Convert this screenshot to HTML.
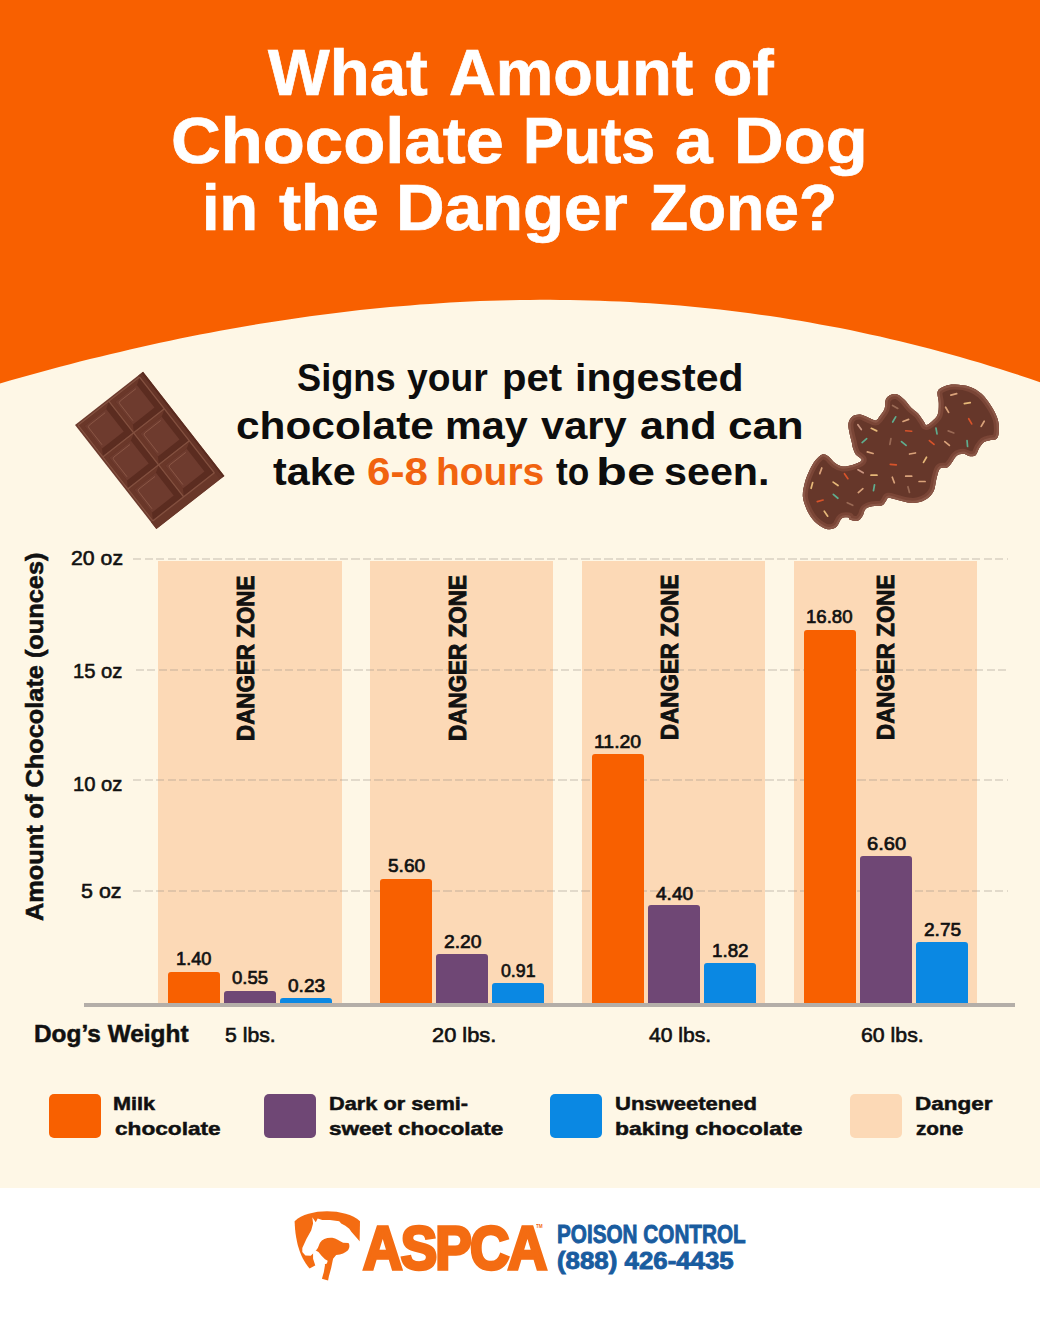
<!DOCTYPE html>
<html><head><meta charset="utf-8">
<style>
*{margin:0;padding:0;box-sizing:border-box}
html,body{width:1040px;height:1339px;overflow:hidden;background:#fef7e6;font-family:"Liberation Sans",sans-serif;color:#111}
.abs{position:absolute}
.t{position:absolute;white-space:nowrap;line-height:0;transform-origin:0 0}
.dz{position:absolute;top:561px;height:442px;background:#fcd9b6}
.grid{position:absolute;left:133.3px;width:875px;height:2px;background:repeating-linear-gradient(90deg,rgba(150,140,130,.27) 0 8px,transparent 8px 11.5px)}
.bar{position:absolute;width:52px;border-radius:3px 3px 0 0}
.b0{background:#f86000}.b1{background:#6f4775}.b2{background:#0a88e3}
.lg{position:absolute;top:1094px;width:52px;height:44px;border-radius:5px}
#foot{position:absolute;left:0;top:1188px;width:1040px;height:151px;background:#fff}
</style></head><body>
<svg class="abs" style="left:0;top:0" width="1040" height="400" viewBox="0 0 1040 400"><path fill="#f86000" d="M0,0 H1040 L1040,382.2 L1030,378.8 L1020,375.4 L1010,372.2 L1000,369.0 L990,365.9 L980,362.8 L970,359.9 L960,357.0 L950,354.2 L940,351.4 L930,348.8 L920,346.2 L910,343.7 L900,341.2 L890,338.9 L880,336.6 L870,334.4 L860,332.2 L850,330.1 L840,328.1 L830,326.2 L820,324.4 L810,322.6 L800,320.8 L790,319.2 L780,317.6 L770,316.1 L760,314.7 L750,313.3 L740,312.0 L730,310.8 L720,309.6 L710,308.5 L700,307.5 L690,306.5 L680,305.6 L670,304.8 L660,304.0 L650,303.3 L640,302.7 L630,302.1 L620,301.6 L610,301.2 L600,300.8 L590,300.5 L580,300.2 L570,300.0 L560,299.9 L550,299.8 L540,299.8 L530,299.9 L520,300.0 L510,300.2 L500,300.5 L490,300.8 L480,301.1 L470,301.6 L460,302.1 L450,302.6 L440,303.2 L430,303.9 L420,304.6 L410,305.4 L400,306.2 L390,307.1 L380,308.1 L370,309.1 L360,310.1 L350,311.3 L340,312.4 L330,313.7 L320,315.0 L310,316.3 L300,317.7 L290,319.2 L280,320.7 L270,322.2 L260,323.8 L250,325.5 L240,327.2 L230,329.0 L220,330.8 L210,332.7 L200,334.6 L190,336.6 L180,338.6 L170,340.7 L160,342.8 L150,345.0 L140,347.3 L130,349.5 L120,351.9 L110,354.2 L100,356.7 L90,359.1 L80,361.6 L70,364.2 L60,366.8 L50,369.5 L40,372.2 L30,374.9 L20,377.7 L10,380.6 L0,383.5 Z"/></svg>

<!-- chart -->
<div class="dz" style="left:158.3px;width:183.5px"></div>
<div class="dz" style="left:370.1px;width:182.5px"></div>
<div class="dz" style="left:581.5px;width:183px"></div>
<div class="dz" style="left:793.5px;width:183px"></div>

<div class="grid" style="top:558.3px"></div>
<div class="grid" style="top:669.3px;left:135.8px;width:872px"></div>
<div class="grid" style="top:779.4px"></div>
<div class="grid" style="top:890.2px"></div>

<div class="bar b0" style="left:168.3px;top:972.1px;height:31.9px"></div>
<div class="bar b1" style="left:224.3px;top:991.0px;height:13.0px"></div>
<div class="bar b2" style="left:280.3px;top:998.1px;height:5.9px"></div>
<div class="bar b0" style="left:380.1px;top:878.7px;height:125.3px"></div>
<div class="bar b1" style="left:436.1px;top:954.3px;height:49.7px"></div>
<div class="bar b2" style="left:492.1px;top:983.0px;height:21.0px"></div>
<div class="bar b0" style="left:591.5px;top:754.1px;height:249.9px"></div>
<div class="bar b1" style="left:647.5px;top:905.3px;height:98.7px"></div>
<div class="bar b2" style="left:703.5px;top:962.7px;height:41.3px"></div>
<div class="bar b0" style="left:803.5px;top:629.6px;height:374.4px"></div>
<div class="bar b1" style="left:859.5px;top:856.4px;height:147.6px"></div>
<div class="bar b2" style="left:915.5px;top:942.0px;height:62.0px"></div>

<div class="abs" style="left:84px;top:1003px;width:931px;height:4px;background:#b4aea8"></div>

<div class="lg b0" style="left:49px"></div>
<div class="lg b1" style="left:263.5px"></div>
<div class="lg b2" style="left:550px"></div>
<div class="lg" style="left:850px;background:#fcd9b6"></div>

<div id="foot"></div>
<svg class="abs" style="left:0;top:0;overflow:visible" width="1040" height="600"><g transform="translate(149.7,450.4) rotate(-38)"><rect x="-43.15" y="-66.05" width="86.3" height="132.1" fill="#6c3a2d"/><rect x="40.95" y="-66.05" width="2.2" height="132.1" fill="#5a2b1f"/><rect x="37.20" y="-66.05" width="3.75" height="132.1" fill="#653427"/><rect x="-43.15" y="57.50" width="80.35" height="8.55" fill="#693729"/><rect x="-40.40" y="-63.40" width="38.00" height="39.10" fill="#5b2c20"/><polygon points="-40.40,-63.40 -2.40,-63.40 -8.90,-59.40 -36.40,-59.40 -36.40,-30.80 -40.40,-24.30" fill="#6a3729"/><rect x="-36.40" y="-59.40" width="27.50" height="28.60" fill="#6e3b2e"/><path d="M-34.10,-33.80 V-55.10 Q-34.10,-57.10 -32.10,-57.10 H-11.90" fill="none" stroke="#8a5645" stroke-width="0.9"/><rect x="-1.20" y="-63.40" width="37.80" height="39.10" fill="#5b2c20"/><polygon points="-1.20,-63.40 36.60,-63.40 30.10,-59.40 2.80,-59.40 2.80,-30.80 -1.20,-24.30" fill="#6a3729"/><rect x="2.80" y="-59.40" width="27.30" height="28.60" fill="#6e3b2e"/><path d="M5.10,-33.80 V-55.10 Q5.10,-57.10 7.10,-57.10 H27.10" fill="none" stroke="#8a5645" stroke-width="0.9"/><rect x="-40.40" y="-23.10" width="38.00" height="39.40" fill="#5b2c20"/><polygon points="-40.40,-23.10 -2.40,-23.10 -8.90,-19.10 -36.40,-19.10 -36.40,9.80 -40.40,16.30" fill="#6a3729"/><rect x="-36.40" y="-19.10" width="27.50" height="28.90" fill="#6e3b2e"/><path d="M-34.10,6.80 V-14.80 Q-34.10,-16.80 -32.10,-16.80 H-11.90" fill="none" stroke="#8a5645" stroke-width="0.9"/><rect x="-1.20" y="-23.10" width="37.80" height="39.40" fill="#5b2c20"/><polygon points="-1.20,-23.10 36.60,-23.10 30.10,-19.10 2.80,-19.10 2.80,9.80 -1.20,16.30" fill="#6a3729"/><rect x="2.80" y="-19.10" width="27.30" height="28.90" fill="#6e3b2e"/><path d="M5.10,6.80 V-14.80 Q5.10,-16.80 7.10,-16.80 H27.10" fill="none" stroke="#8a5645" stroke-width="0.9"/><rect x="-40.40" y="17.50" width="38.00" height="39.40" fill="#5b2c20"/><polygon points="-40.40,17.50 -2.40,17.50 -8.90,21.50 -36.40,21.50 -36.40,50.40 -40.40,56.90" fill="#6a3729"/><rect x="-36.40" y="21.50" width="27.50" height="28.90" fill="#6e3b2e"/><path d="M-34.10,47.40 V25.80 Q-34.10,23.80 -32.10,23.80 H-11.90" fill="none" stroke="#8a5645" stroke-width="0.9"/><rect x="-1.20" y="17.50" width="37.80" height="39.40" fill="#5b2c20"/><polygon points="-1.20,17.50 36.60,17.50 30.10,21.50 2.80,21.50 2.80,50.40 -1.20,56.90" fill="#6a3729"/><rect x="2.80" y="21.50" width="27.30" height="28.90" fill="#6e3b2e"/><path d="M5.10,47.40 V25.80 Q5.10,23.80 7.10,23.80 H27.10" fill="none" stroke="#8a5645" stroke-width="0.9"/><line x1="-41.00" y1="-64.00" x2="-41.00" y2="57.50" stroke="#83503f" stroke-width="1.3"/><line x1="-1.80" y1="-64.00" x2="-1.80" y2="57.50" stroke="#83503f" stroke-width="1.3"/><line x1="37.20" y1="-64.00" x2="37.20" y2="57.50" stroke="#83503f" stroke-width="1.3"/><line x1="-41.00" y1="-64.00" x2="37.20" y2="-64.00" stroke="#83503f" stroke-width="1.3"/><line x1="-41.00" y1="-23.70" x2="37.20" y2="-23.70" stroke="#83503f" stroke-width="1.3"/><line x1="-41.00" y1="16.90" x2="37.20" y2="16.90" stroke="#83503f" stroke-width="1.3"/><line x1="-41.00" y1="57.50" x2="37.20" y2="57.50" stroke="#83503f" stroke-width="1.3"/></g></svg>
<svg class="abs" style="left:0;top:0;overflow:visible" width="1040" height="600"><defs><clipPath id="ck"><path d="M802.9,497.1 C802.4,492.2 803.8,487.0 804.9,482.5 C806.0,478.0 807.9,473.6 809.7,469.9 C811.5,466.2 813.4,462.8 815.5,460.2 C817.6,457.6 820.2,455.0 822.3,454.4 C824.4,453.8 826.1,454.9 828.2,456.3 C830.3,457.8 832.6,461.4 835.0,463.1 C837.4,464.8 839.8,466.2 842.7,466.5 C845.6,466.8 849.6,465.7 852.4,465.0 C855.2,464.3 858.1,463.1 859.6,462.1 C861.1,461.1 862.1,460.5 861.5,459.2 C860.9,457.9 857.2,456.3 855.8,454.4 C854.4,452.5 853.5,449.6 852.9,447.7 C852.2,445.8 852.5,445.1 851.9,442.7 C851.3,440.2 850.1,436.2 849.5,433.0 C848.9,429.8 848.0,426.1 848.5,423.3 C849.0,420.6 850.4,417.9 852.4,416.5 C854.4,415.1 857.6,414.4 860.2,414.6 C862.8,414.8 865.4,416.5 868.0,417.5 C870.6,418.5 873.7,420.7 875.7,420.4 C877.7,420.1 878.5,417.7 880.0,415.8 C881.5,413.9 883.6,411.5 884.6,408.8 C885.6,406.1 884.8,401.9 885.8,399.6 C886.8,397.3 888.5,395.9 890.4,395.0 C892.3,394.1 895.0,393.6 897.3,394.4 C899.6,395.2 901.9,397.4 904.2,399.6 C906.5,401.8 908.9,405.4 911.2,407.7 C913.5,410.0 916.0,411.2 918.1,413.5 C920.2,415.8 922.4,419.6 923.8,421.5 C925.1,423.4 924.9,425.0 926.2,425.0 C927.6,425.0 930.0,423.2 931.9,421.5 C933.8,419.8 936.6,417.7 937.7,414.6 C938.9,411.5 938.8,407.0 938.8,403.1 C938.8,399.2 936.7,394.3 937.7,391.5 C938.7,388.7 941.7,387.4 944.6,386.3 C947.5,385.2 950.8,384.5 955.0,384.6 C959.2,384.7 965.6,385.4 970.0,386.9 C974.4,388.4 978.0,390.7 981.5,393.8 C985.0,396.9 988.1,401.2 990.8,405.4 C993.5,409.6 996.4,414.8 997.7,419.2 C999.0,423.6 999.0,428.6 998.8,431.9 C998.6,435.2 997.8,437.4 996.5,438.8 C995.2,440.2 992.9,439.4 990.8,440.0 C988.7,440.6 985.7,440.9 983.8,442.3 C981.9,443.7 980.5,446.0 979.2,448.1 C977.9,450.2 977.3,453.6 975.8,455.0 C974.3,456.4 972.1,456.4 970.0,456.2 C967.9,456.0 965.4,453.8 963.1,453.8 C960.8,453.8 958.1,454.6 956.2,456.2 C954.3,457.8 953.0,461.2 951.5,463.1 C950.0,465.0 948.8,466.8 946.9,467.7 C945.0,468.6 941.7,466.7 940.0,468.5 C938.3,470.3 937.5,474.8 936.5,478.5 C935.5,482.2 935.3,487.6 933.7,491.0 C932.1,494.4 929.6,496.8 926.9,498.7 C924.2,500.6 920.5,501.9 917.3,502.5 C914.1,503.1 911.2,503.0 907.7,502.5 C904.2,502.0 899.4,500.4 896.2,499.6 C893.0,498.8 890.3,497.4 888.5,497.7 C886.7,498.0 886.7,500.2 885.6,501.5 C884.5,502.8 884.0,504.6 881.7,505.4 C879.5,506.2 874.8,505.7 872.1,506.3 C869.4,506.9 867.0,507.6 865.4,509.2 C863.8,510.8 863.8,514.1 862.5,516.0 C861.2,517.9 859.8,520.2 857.7,520.8 C855.6,521.4 851.5,520.3 850.0,519.8 C848.5,519.2 849.9,517.7 848.5,517.5 C847.1,517.3 843.6,516.9 841.7,518.4 C839.8,519.9 838.7,524.4 836.9,526.2 C835.1,528.0 833.2,528.8 831.1,529.1 C829.0,529.4 827.0,529.5 824.3,528.2 C821.5,526.9 817.4,524.1 814.6,521.4 C811.9,518.6 809.8,515.8 807.8,511.7 C805.8,507.6 803.4,502.0 802.9,497.1Z"/></clipPath></defs><path d="M802.9,497.1 C802.4,492.2 803.8,487.0 804.9,482.5 C806.0,478.0 807.9,473.6 809.7,469.9 C811.5,466.2 813.4,462.8 815.5,460.2 C817.6,457.6 820.2,455.0 822.3,454.4 C824.4,453.8 826.1,454.9 828.2,456.3 C830.3,457.8 832.6,461.4 835.0,463.1 C837.4,464.8 839.8,466.2 842.7,466.5 C845.6,466.8 849.6,465.7 852.4,465.0 C855.2,464.3 858.1,463.1 859.6,462.1 C861.1,461.1 862.1,460.5 861.5,459.2 C860.9,457.9 857.2,456.3 855.8,454.4 C854.4,452.5 853.5,449.6 852.9,447.7 C852.2,445.8 852.5,445.1 851.9,442.7 C851.3,440.2 850.1,436.2 849.5,433.0 C848.9,429.8 848.0,426.1 848.5,423.3 C849.0,420.6 850.4,417.9 852.4,416.5 C854.4,415.1 857.6,414.4 860.2,414.6 C862.8,414.8 865.4,416.5 868.0,417.5 C870.6,418.5 873.7,420.7 875.7,420.4 C877.7,420.1 878.5,417.7 880.0,415.8 C881.5,413.9 883.6,411.5 884.6,408.8 C885.6,406.1 884.8,401.9 885.8,399.6 C886.8,397.3 888.5,395.9 890.4,395.0 C892.3,394.1 895.0,393.6 897.3,394.4 C899.6,395.2 901.9,397.4 904.2,399.6 C906.5,401.8 908.9,405.4 911.2,407.7 C913.5,410.0 916.0,411.2 918.1,413.5 C920.2,415.8 922.4,419.6 923.8,421.5 C925.1,423.4 924.9,425.0 926.2,425.0 C927.6,425.0 930.0,423.2 931.9,421.5 C933.8,419.8 936.6,417.7 937.7,414.6 C938.9,411.5 938.8,407.0 938.8,403.1 C938.8,399.2 936.7,394.3 937.7,391.5 C938.7,388.7 941.7,387.4 944.6,386.3 C947.5,385.2 950.8,384.5 955.0,384.6 C959.2,384.7 965.6,385.4 970.0,386.9 C974.4,388.4 978.0,390.7 981.5,393.8 C985.0,396.9 988.1,401.2 990.8,405.4 C993.5,409.6 996.4,414.8 997.7,419.2 C999.0,423.6 999.0,428.6 998.8,431.9 C998.6,435.2 997.8,437.4 996.5,438.8 C995.2,440.2 992.9,439.4 990.8,440.0 C988.7,440.6 985.7,440.9 983.8,442.3 C981.9,443.7 980.5,446.0 979.2,448.1 C977.9,450.2 977.3,453.6 975.8,455.0 C974.3,456.4 972.1,456.4 970.0,456.2 C967.9,456.0 965.4,453.8 963.1,453.8 C960.8,453.8 958.1,454.6 956.2,456.2 C954.3,457.8 953.0,461.2 951.5,463.1 C950.0,465.0 948.8,466.8 946.9,467.7 C945.0,468.6 941.7,466.7 940.0,468.5 C938.3,470.3 937.5,474.8 936.5,478.5 C935.5,482.2 935.3,487.6 933.7,491.0 C932.1,494.4 929.6,496.8 926.9,498.7 C924.2,500.6 920.5,501.9 917.3,502.5 C914.1,503.1 911.2,503.0 907.7,502.5 C904.2,502.0 899.4,500.4 896.2,499.6 C893.0,498.8 890.3,497.4 888.5,497.7 C886.7,498.0 886.7,500.2 885.6,501.5 C884.5,502.8 884.0,504.6 881.7,505.4 C879.5,506.2 874.8,505.7 872.1,506.3 C869.4,506.9 867.0,507.6 865.4,509.2 C863.8,510.8 863.8,514.1 862.5,516.0 C861.2,517.9 859.8,520.2 857.7,520.8 C855.6,521.4 851.5,520.3 850.0,519.8 C848.5,519.2 849.9,517.7 848.5,517.5 C847.1,517.3 843.6,516.9 841.7,518.4 C839.8,519.9 838.7,524.4 836.9,526.2 C835.1,528.0 833.2,528.8 831.1,529.1 C829.0,529.4 827.0,529.5 824.3,528.2 C821.5,526.9 817.4,524.1 814.6,521.4 C811.9,518.6 809.8,515.8 807.8,511.7 C805.8,507.6 803.4,502.0 802.9,497.1Z" fill="#66372a"/><path d="M802.9,497.1 C802.4,492.2 803.8,487.0 804.9,482.5 C806.0,478.0 807.9,473.6 809.7,469.9 C811.5,466.2 813.4,462.8 815.5,460.2 C817.6,457.6 820.2,455.0 822.3,454.4 C824.4,453.8 826.1,454.9 828.2,456.3 C830.3,457.8 832.6,461.4 835.0,463.1 C837.4,464.8 839.8,466.2 842.7,466.5 C845.6,466.8 849.6,465.7 852.4,465.0 C855.2,464.3 858.1,463.1 859.6,462.1 C861.1,461.1 862.1,460.5 861.5,459.2 C860.9,457.9 857.2,456.3 855.8,454.4 C854.4,452.5 853.5,449.6 852.9,447.7 C852.2,445.8 852.5,445.1 851.9,442.7 C851.3,440.2 850.1,436.2 849.5,433.0 C848.9,429.8 848.0,426.1 848.5,423.3 C849.0,420.6 850.4,417.9 852.4,416.5 C854.4,415.1 857.6,414.4 860.2,414.6 C862.8,414.8 865.4,416.5 868.0,417.5 C870.6,418.5 873.7,420.7 875.7,420.4 C877.7,420.1 878.5,417.7 880.0,415.8 C881.5,413.9 883.6,411.5 884.6,408.8 C885.6,406.1 884.8,401.9 885.8,399.6 C886.8,397.3 888.5,395.9 890.4,395.0 C892.3,394.1 895.0,393.6 897.3,394.4 C899.6,395.2 901.9,397.4 904.2,399.6 C906.5,401.8 908.9,405.4 911.2,407.7 C913.5,410.0 916.0,411.2 918.1,413.5 C920.2,415.8 922.4,419.6 923.8,421.5 C925.1,423.4 924.9,425.0 926.2,425.0 C927.6,425.0 930.0,423.2 931.9,421.5 C933.8,419.8 936.6,417.7 937.7,414.6 C938.9,411.5 938.8,407.0 938.8,403.1 C938.8,399.2 936.7,394.3 937.7,391.5 C938.7,388.7 941.7,387.4 944.6,386.3 C947.5,385.2 950.8,384.5 955.0,384.6 C959.2,384.7 965.6,385.4 970.0,386.9 C974.4,388.4 978.0,390.7 981.5,393.8 C985.0,396.9 988.1,401.2 990.8,405.4 C993.5,409.6 996.4,414.8 997.7,419.2 C999.0,423.6 999.0,428.6 998.8,431.9 C998.6,435.2 997.8,437.4 996.5,438.8 C995.2,440.2 992.9,439.4 990.8,440.0 C988.7,440.6 985.7,440.9 983.8,442.3 C981.9,443.7 980.5,446.0 979.2,448.1 C977.9,450.2 977.3,453.6 975.8,455.0 C974.3,456.4 972.1,456.4 970.0,456.2 C967.9,456.0 965.4,453.8 963.1,453.8 C960.8,453.8 958.1,454.6 956.2,456.2 C954.3,457.8 953.0,461.2 951.5,463.1 C950.0,465.0 948.8,466.8 946.9,467.7 C945.0,468.6 941.7,466.7 940.0,468.5 C938.3,470.3 937.5,474.8 936.5,478.5 C935.5,482.2 935.3,487.6 933.7,491.0 C932.1,494.4 929.6,496.8 926.9,498.7 C924.2,500.6 920.5,501.9 917.3,502.5 C914.1,503.1 911.2,503.0 907.7,502.5 C904.2,502.0 899.4,500.4 896.2,499.6 C893.0,498.8 890.3,497.4 888.5,497.7 C886.7,498.0 886.7,500.2 885.6,501.5 C884.5,502.8 884.0,504.6 881.7,505.4 C879.5,506.2 874.8,505.7 872.1,506.3 C869.4,506.9 867.0,507.6 865.4,509.2 C863.8,510.8 863.8,514.1 862.5,516.0 C861.2,517.9 859.8,520.2 857.7,520.8 C855.6,521.4 851.5,520.3 850.0,519.8 C848.5,519.2 849.9,517.7 848.5,517.5 C847.1,517.3 843.6,516.9 841.7,518.4 C839.8,519.9 838.7,524.4 836.9,526.2 C835.1,528.0 833.2,528.8 831.1,529.1 C829.0,529.4 827.0,529.5 824.3,528.2 C821.5,526.9 817.4,524.1 814.6,521.4 C811.9,518.6 809.8,515.8 807.8,511.7 C805.8,507.6 803.4,502.0 802.9,497.1Z" fill="none" stroke="#7a4536" stroke-width="10" clip-path="url(#ck)"/><path d="M802.9,497.1 C802.4,492.2 803.8,487.0 804.9,482.5 C806.0,478.0 807.9,473.6 809.7,469.9 C811.5,466.2 813.4,462.8 815.5,460.2 C817.6,457.6 820.2,455.0 822.3,454.4 C824.4,453.8 826.1,454.9 828.2,456.3 C830.3,457.8 832.6,461.4 835.0,463.1 C837.4,464.8 839.8,466.2 842.7,466.5 C845.6,466.8 849.6,465.7 852.4,465.0 C855.2,464.3 858.1,463.1 859.6,462.1 C861.1,461.1 862.1,460.5 861.5,459.2 C860.9,457.9 857.2,456.3 855.8,454.4 C854.4,452.5 853.5,449.6 852.9,447.7 C852.2,445.8 852.5,445.1 851.9,442.7 C851.3,440.2 850.1,436.2 849.5,433.0 C848.9,429.8 848.0,426.1 848.5,423.3 C849.0,420.6 850.4,417.9 852.4,416.5 C854.4,415.1 857.6,414.4 860.2,414.6 C862.8,414.8 865.4,416.5 868.0,417.5 C870.6,418.5 873.7,420.7 875.7,420.4 C877.7,420.1 878.5,417.7 880.0,415.8 C881.5,413.9 883.6,411.5 884.6,408.8 C885.6,406.1 884.8,401.9 885.8,399.6 C886.8,397.3 888.5,395.9 890.4,395.0 C892.3,394.1 895.0,393.6 897.3,394.4 C899.6,395.2 901.9,397.4 904.2,399.6 C906.5,401.8 908.9,405.4 911.2,407.7 C913.5,410.0 916.0,411.2 918.1,413.5 C920.2,415.8 922.4,419.6 923.8,421.5 C925.1,423.4 924.9,425.0 926.2,425.0 C927.6,425.0 930.0,423.2 931.9,421.5 C933.8,419.8 936.6,417.7 937.7,414.6 C938.9,411.5 938.8,407.0 938.8,403.1 C938.8,399.2 936.7,394.3 937.7,391.5 C938.7,388.7 941.7,387.4 944.6,386.3 C947.5,385.2 950.8,384.5 955.0,384.6 C959.2,384.7 965.6,385.4 970.0,386.9 C974.4,388.4 978.0,390.7 981.5,393.8 C985.0,396.9 988.1,401.2 990.8,405.4 C993.5,409.6 996.4,414.8 997.7,419.2 C999.0,423.6 999.0,428.6 998.8,431.9 C998.6,435.2 997.8,437.4 996.5,438.8 C995.2,440.2 992.9,439.4 990.8,440.0 C988.7,440.6 985.7,440.9 983.8,442.3 C981.9,443.7 980.5,446.0 979.2,448.1 C977.9,450.2 977.3,453.6 975.8,455.0 C974.3,456.4 972.1,456.4 970.0,456.2 C967.9,456.0 965.4,453.8 963.1,453.8 C960.8,453.8 958.1,454.6 956.2,456.2 C954.3,457.8 953.0,461.2 951.5,463.1 C950.0,465.0 948.8,466.8 946.9,467.7 C945.0,468.6 941.7,466.7 940.0,468.5 C938.3,470.3 937.5,474.8 936.5,478.5 C935.5,482.2 935.3,487.6 933.7,491.0 C932.1,494.4 929.6,496.8 926.9,498.7 C924.2,500.6 920.5,501.9 917.3,502.5 C914.1,503.1 911.2,503.0 907.7,502.5 C904.2,502.0 899.4,500.4 896.2,499.6 C893.0,498.8 890.3,497.4 888.5,497.7 C886.7,498.0 886.7,500.2 885.6,501.5 C884.5,502.8 884.0,504.6 881.7,505.4 C879.5,506.2 874.8,505.7 872.1,506.3 C869.4,506.9 867.0,507.6 865.4,509.2 C863.8,510.8 863.8,514.1 862.5,516.0 C861.2,517.9 859.8,520.2 857.7,520.8 C855.6,521.4 851.5,520.3 850.0,519.8 C848.5,519.2 849.9,517.7 848.5,517.5 C847.1,517.3 843.6,516.9 841.7,518.4 C839.8,519.9 838.7,524.4 836.9,526.2 C835.1,528.0 833.2,528.8 831.1,529.1 C829.0,529.4 827.0,529.5 824.3,528.2 C821.5,526.9 817.4,524.1 814.6,521.4 C811.9,518.6 809.8,515.8 807.8,511.7 C805.8,507.6 803.4,502.0 802.9,497.1Z" fill="none" stroke="#8a5646" stroke-width="4.5" clip-path="url(#ck)"/><g stroke-width="1.7" stroke-linecap="round"><line x1="-3" y1="0" x2="3" y2="0" transform="translate(953.8,394.4) rotate(-15)" stroke="#d9a27a"/><line x1="-3" y1="0" x2="3" y2="0" transform="translate(967.3,403.1) rotate(-10)" stroke="#e6b878"/><line x1="-3" y1="0" x2="3" y2="0" transform="translate(947.1,409.8) rotate(60)" stroke="#d9a27a"/><line x1="-3" y1="0" x2="3" y2="0" transform="translate(970.2,421.3) rotate(60)" stroke="#d8532a"/><line x1="-3" y1="0" x2="3" y2="0" transform="translate(982.7,423.8) rotate(-60)" stroke="#d9a27a"/><line x1="-3" y1="0" x2="3" y2="0" transform="translate(936.5,431.0) rotate(80)" stroke="#5fae8f"/><line x1="-3" y1="0" x2="3" y2="0" transform="translate(951.0,431.9) rotate(20)" stroke="#9a6a55"/><line x1="-3" y1="0" x2="3" y2="0" transform="translate(967.3,443.5) rotate(85)" stroke="#5fae8f"/><line x1="-3" y1="0" x2="3" y2="0" transform="translate(931.7,442.5) rotate(40)" stroke="#d8532a"/><line x1="-3" y1="0" x2="3" y2="0" transform="translate(947.1,443.5) rotate(40)" stroke="#d9a27a"/><line x1="-3" y1="0" x2="3" y2="0" transform="translate(894.2,419.4) rotate(-60)" stroke="#5fae8f"/><line x1="-3" y1="0" x2="3" y2="0" transform="translate(905.8,420.4) rotate(-20)" stroke="#d9a27a"/><line x1="-3" y1="0" x2="3" y2="0" transform="translate(895.2,406.9) rotate(30)" stroke="#9a6a55"/><line x1="-3" y1="0" x2="3" y2="0" transform="translate(908.7,431.0) rotate(5)" stroke="#d8532a"/><line x1="-3" y1="0" x2="3" y2="0" transform="translate(903.8,443.5) rotate(40)" stroke="#5fae8f"/><line x1="-3" y1="0" x2="3" y2="0" transform="translate(890.4,441.5) rotate(-80)" stroke="#9a6a55"/><line x1="-3" y1="0" x2="3" y2="0" transform="translate(864.4,440.6) rotate(-40)" stroke="#5fae8f"/><line x1="-3" y1="0" x2="3" y2="0" transform="translate(859.6,427.1) rotate(55)" stroke="#c99580"/><line x1="-3" y1="0" x2="3" y2="0" transform="translate(874.0,429.6) rotate(25)" stroke="#e6b878"/><line x1="-3" y1="0" x2="3" y2="0" transform="translate(870.2,452.7) rotate(15)" stroke="#d9a27a"/><line x1="-3" y1="0" x2="3" y2="0" transform="translate(912.5,453.5) rotate(-10)" stroke="#d9a27a"/><line x1="-3" y1="0" x2="3" y2="0" transform="translate(925.0,459.8) rotate(-60)" stroke="#e6b878"/><line x1="-3" y1="0" x2="3" y2="0" transform="translate(893.3,464.6) rotate(5)" stroke="#d8532a"/><line x1="-3" y1="0" x2="3" y2="0" transform="translate(860.6,471.3) rotate(30)" stroke="#c99580"/><line x1="-3" y1="0" x2="3" y2="0" transform="translate(874.0,475.2) rotate(0)" stroke="#e6b878"/><line x1="-3" y1="0" x2="3" y2="0" transform="translate(893.3,480.0) rotate(70)" stroke="#d9a27a"/><line x1="-3" y1="0" x2="3" y2="0" transform="translate(908.7,476.2) rotate(0)" stroke="#d9a27a"/><line x1="-3" y1="0" x2="3" y2="0" transform="translate(922.1,481.5) rotate(0)" stroke="#d9a27a"/><line x1="-3" y1="0" x2="3" y2="0" transform="translate(908.7,489.6) rotate(75)" stroke="#9a6a55"/><line x1="-3" y1="0" x2="3" y2="0" transform="translate(874.0,487.7) rotate(-80)" stroke="#5fae8f"/><line x1="-3" y1="0" x2="3" y2="0" transform="translate(860.6,490.6) rotate(-40)" stroke="#d9a27a"/><line x1="-3" y1="0" x2="3" y2="0" transform="translate(846.2,476.2) rotate(55)" stroke="#d8532a"/><line x1="-3" y1="0" x2="3" y2="0" transform="translate(835.6,483.8) rotate(35)" stroke="#e6b878"/><line x1="-3" y1="0" x2="3" y2="0" transform="translate(820.8,470.8) rotate(-70)" stroke="#d9a27a"/><line x1="-3" y1="0" x2="3" y2="0" transform="translate(811.9,485.4) rotate(-75)" stroke="#e6b878"/><line x1="-3" y1="0" x2="3" y2="0" transform="translate(835.6,496.3) rotate(40)" stroke="#5fae8f"/><line x1="-3" y1="0" x2="3" y2="0" transform="translate(820.2,500.8) rotate(-15)" stroke="#d8532a"/><line x1="-3" y1="0" x2="3" y2="0" transform="translate(850.0,504.0) rotate(25)" stroke="#9a6a55"/><line x1="-3" y1="0" x2="3" y2="0" transform="translate(826.0,513.7) rotate(55)" stroke="#e6b878"/></g></svg>
<svg class="abs" style="left:290px;top:1205px;overflow:visible" width="80" height="80" viewBox="0 0 1040 1040">
<path fill="#f46c12" d="M60,210 C240,40 720,40 910,210 L905,470 L255,825 C150,700 70,520 60,210 Z"/>
<path fill="#fff" d="M290,160 L335,225 L360,175 L420,195 L520,195 L640,210 L665,240 L720,270 L770,310 L800,350 L860,420 L905,470 L960,560 L960,760 L560,760 L420,480 L330,600 L270,660 L200,655 L160,610 L160,560 L215,440 L275,330 L300,240 Z"/>
<path fill="#f46c12" d="M390,490 C420,440 480,420 550,425 C600,430 640,470 690,490 L760,495 C780,520 775,560 750,590 C720,620 670,640 600,650 L560,700 L535,820 L505,930 L495,980 L415,960 L440,870 L455,780 L425,700 L385,640 L360,590 C365,550 375,520 390,490 Z"/>
<path fill="#fff" d="M300,620 L335,590 L370,610 L410,660 L455,705 L490,725 L480,760 L445,775 L435,820 L330,790 L300,700 Z"/>
</svg>


<div class="t" style="left:267.50px;top:73.00px;font-weight:bold;font-size:64px;color:#fff;transform:scaleX(1.0218);-webkit-text-stroke:0.7px #fff">What</div>
<div class="t" style="left:448.99px;top:73.00px;font-weight:bold;font-size:64px;color:#fff;transform:scaleX(1.0108);-webkit-text-stroke:0.7px #fff">Amount</div>
<div class="t" style="left:713.00px;top:73.00px;font-weight:bold;font-size:64px;color:#fff;transform:scaleX(1.0069);-webkit-text-stroke:0.7px #fff">of</div>
<div class="t" style="left:171.35px;top:141.00px;font-weight:bold;font-size:64px;color:#fff;transform:scaleX(1.0759);-webkit-text-stroke:0.7px #fff">Chocolate</div>
<div class="t" style="left:522.70px;top:141.00px;font-weight:bold;font-size:64px;color:#fff;transform:scaleX(0.9539);-webkit-text-stroke:0.7px #fff">Puts</div>
<div class="t" style="left:674.95px;top:141.00px;font-weight:bold;font-size:64px;color:#fff;transform:scaleX(1.0576);-webkit-text-stroke:0.7px #fff">a</div>
<div class="t" style="left:733.67px;top:141.00px;font-weight:bold;font-size:64px;color:#fff;transform:scaleX(1.0748);-webkit-text-stroke:0.7px #fff">Dog</div>
<div class="t" style="left:201.56px;top:208.00px;font-weight:bold;font-size:64px;color:#fff;transform:scaleX(0.9843);-webkit-text-stroke:0.7px #fff">in</div>
<div class="t" style="left:278.50px;top:208.00px;font-weight:bold;font-size:64px;color:#fff;transform:scaleX(1.0381);-webkit-text-stroke:0.7px #fff">the</div>
<div class="t" style="left:395.79px;top:208.00px;font-weight:bold;font-size:64px;color:#fff;transform:scaleX(1.0506);-webkit-text-stroke:0.7px #fff">Danger</div>
<div class="t" style="left:649.52px;top:208.00px;font-weight:bold;font-size:64px;color:#fff;transform:scaleX(0.9741);-webkit-text-stroke:0.7px #fff">Zone?</div>
<div class="t" style="left:296.58px;top:378.00px;font-weight:bold;font-size:39px;color:#0d0d0d;transform:scaleX(0.9284);">Signs</div>
<div class="t" style="left:407.00px;top:378.00px;font-weight:bold;font-size:39px;color:#0d0d0d;transform:scaleX(0.9546);">your</div>
<div class="t" style="left:501.98px;top:378.00px;font-weight:bold;font-size:39px;color:#0d0d0d;transform:scaleX(1.0268);">pet</div>
<div class="t" style="left:575.41px;top:378.00px;font-weight:bold;font-size:39px;color:#0d0d0d;transform:scaleX(1.0509);">ingested</div>
<div class="t" style="left:236.42px;top:426.00px;font-weight:bold;font-size:39px;color:#0d0d0d;transform:scaleX(1.0868);">chocolate</div>
<div class="t" style="left:445.40px;top:426.00px;font-weight:bold;font-size:39px;color:#0d0d0d;transform:scaleX(1.0608);">may</div>
<div class="t" style="left:541.00px;top:426.00px;font-weight:bold;font-size:39px;color:#0d0d0d;transform:scaleX(1.0677);">vary</div>
<div class="t" style="left:639.90px;top:426.00px;font-weight:bold;font-size:39px;color:#0d0d0d;transform:scaleX(1.1052);">and</div>
<div class="t" style="left:728.39px;top:426.00px;font-weight:bold;font-size:39px;color:#0d0d0d;transform:scaleX(1.1265);">can</div>
<div class="t" style="left:272.50px;top:472.00px;font-weight:bold;font-size:39px;color:#0d0d0d;transform:scaleX(1.0600);">take</div>
<div class="t" style="left:367.42px;top:472.00px;font-weight:bold;font-size:39px;color:#f1630f;transform:scaleX(1.0792);">6-8</div>
<div class="t" style="left:435.54px;top:472.00px;font-weight:bold;font-size:39px;color:#f1630f;transform:scaleX(0.9989);">hours</div>
<div class="t" style="left:556.00px;top:472.00px;font-weight:bold;font-size:39px;color:#0d0d0d;transform:scaleX(0.9035);">to</div>
<div class="t" style="left:595.97px;top:472.00px;font-weight:bold;font-size:39px;color:#0d0d0d;transform:scaleX(1.2967);">be</div>
<div class="t" style="left:663.96px;top:472.00px;font-weight:bold;font-size:39px;color:#0d0d0d;transform:scaleX(1.0582);">seen.</div>
<div class="t" style="left:71.00px;top:558.00px;font-weight:normal;font-size:21px;color:#111;transform:scaleX(1.0126);-webkit-text-stroke:0.6px #111">20 oz</div>
<div class="t" style="left:73.03px;top:671.00px;font-weight:normal;font-size:21px;color:#111;transform:scaleX(0.9626);-webkit-text-stroke:0.6px #111">15 oz</div>
<div class="t" style="left:73.03px;top:784.00px;font-weight:normal;font-size:21px;color:#111;transform:scaleX(0.9626);-webkit-text-stroke:0.6px #111">10 oz</div>
<div class="t" style="left:81.00px;top:891.00px;font-weight:normal;font-size:21px;color:#111;transform:scaleX(1.0215);-webkit-text-stroke:0.6px #111">5 oz</div>
<div class="t" style="left:176.02px;top:959.00px;font-weight:normal;font-size:19px;color:#111;transform:scaleX(0.9604);-webkit-text-stroke:0.7px #111">1.40</div>
<div class="t" style="left:232.00px;top:978.00px;font-weight:normal;font-size:19px;color:#111;transform:scaleX(0.9756);-webkit-text-stroke:0.7px #111">0.55</div>
<div class="t" style="left:287.50px;top:986.00px;font-weight:normal;font-size:19px;color:#111;transform:scaleX(1.0028);-webkit-text-stroke:0.7px #111">0.23</div>
<div class="t" style="left:387.50px;top:866.00px;font-weight:normal;font-size:19px;color:#111;transform:scaleX(1.0028);-webkit-text-stroke:0.7px #111">5.60</div>
<div class="t" style="left:444.00px;top:942.00px;font-weight:normal;font-size:19px;color:#111;transform:scaleX(1.0164);-webkit-text-stroke:0.7px #111">2.20</div>
<div class="t" style="left:501.00px;top:971.00px;font-weight:normal;font-size:19px;color:#111;transform:scaleX(0.9342);-webkit-text-stroke:0.7px #111">0.91</div>
<div class="t" style="left:593.96px;top:742.00px;font-weight:normal;font-size:19px;color:#111;transform:scaleX(1.0214);-webkit-text-stroke:0.7px #111">11.20</div>
<div class="t" style="left:656.00px;top:894.00px;font-weight:normal;font-size:19px;color:#111;transform:scaleX(1.0027);-webkit-text-stroke:0.7px #111">4.40</div>
<div class="t" style="left:711.52px;top:951.00px;font-weight:normal;font-size:19px;color:#111;transform:scaleX(0.9887);-webkit-text-stroke:0.7px #111">1.82</div>
<div class="t" style="left:805.51px;top:617.00px;font-weight:normal;font-size:19px;color:#111;transform:scaleX(0.9790);-webkit-text-stroke:0.7px #111">16.80</div>
<div class="t" style="left:866.50px;top:844.00px;font-weight:normal;font-size:19px;color:#111;transform:scaleX(1.0580);-webkit-text-stroke:0.7px #111">6.60</div>
<div class="t" style="left:923.50px;top:930.00px;font-weight:normal;font-size:19px;color:#111;transform:scaleX(1.0025);-webkit-text-stroke:0.7px #111">2.75</div>
<div class="t" style="left:33.98px;top:1034.00px;font-weight:bold;font-size:24px;color:#111;transform:scaleX(1.0166);-webkit-text-stroke:0.5px #111">Dog&#8217;s Weight</div>
<div class="t" style="left:225.00px;top:1035.00px;font-weight:normal;font-size:20px;color:#111;transform:scaleX(1.0598);-webkit-text-stroke:0.6px #111">5 lbs.</div>
<div class="t" style="left:432.41px;top:1035.00px;font-weight:normal;font-size:20px;color:#111;transform:scaleX(1.0912);-webkit-text-stroke:0.6px #111">20 lbs.</div>
<div class="t" style="left:648.50px;top:1035.00px;font-weight:normal;font-size:20px;color:#111;transform:scaleX(1.0547);-webkit-text-stroke:0.6px #111">40 lbs.</div>
<div class="t" style="left:861.44px;top:1035.00px;font-weight:normal;font-size:20px;color:#111;transform:scaleX(1.0644);-webkit-text-stroke:0.6px #111">60 lbs.</div>
<div class="t" style="left:113.37px;top:1104.00px;font-weight:bold;font-size:19px;color:#111;transform:scaleX(1.1407);-webkit-text-stroke:0.5px #111">Milk</div>
<div class="t" style="left:114.50px;top:1129.00px;font-weight:bold;font-size:19px;color:#111;transform:scaleX(1.1915);-webkit-text-stroke:0.5px #111">chocolate</div>
<div class="t" style="left:328.85px;top:1104.00px;font-weight:bold;font-size:19px;color:#111;transform:scaleX(1.1448);-webkit-text-stroke:0.5px #111">Dark or semi-</div>
<div class="t" style="left:329.00px;top:1129.00px;font-weight:bold;font-size:19px;color:#111;transform:scaleX(1.1867);-webkit-text-stroke:0.5px #111">sweet chocolate</div>
<div class="t" style="left:614.85px;top:1104.00px;font-weight:bold;font-size:19px;color:#111;transform:scaleX(1.1583);-webkit-text-stroke:0.5px #111">Unsweetened</div>
<div class="t" style="left:614.79px;top:1129.00px;font-weight:bold;font-size:19px;color:#111;transform:scaleX(1.2074);-webkit-text-stroke:0.5px #111">baking chocolate</div>
<div class="t" style="left:914.82px;top:1104.00px;font-weight:bold;font-size:19px;color:#111;transform:scaleX(1.1835);-webkit-text-stroke:0.5px #111">Danger</div>
<div class="t" style="left:916.00px;top:1129.00px;font-weight:bold;font-size:19px;color:#111;transform:scaleX(1.0891);-webkit-text-stroke:0.5px #111">zone</div>
<div class="t" style="left:363.13px;top:1248.00px;font-weight:bold;font-size:61.5px;color:#f46c12;transform:scaleX(0.8881);-webkit-text-stroke:3.4px #f46c12;letter-spacing:-2px">ASPCA</div>
<div class="t" style="left:557.21px;top:1234.00px;font-weight:bold;font-size:26px;color:#195c9f;transform:scaleX(0.7966);-webkit-text-stroke:0.9px #195c9f">POISON CONTROL</div>
<div class="t" style="left:556.94px;top:1261.00px;font-weight:bold;font-size:24.5px;color:#195c9f;transform:scaleX(1.0548);-webkit-text-stroke:0.9px #195c9f">(888) 426-4435</div>
<div class="t" style="left:535.50px;top:1226.00px;font-weight:bold;font-size:5px;color:#f46c12;transform:scaleX(0.9324);">TM</div>
<div class="t" style="left:246.00px;top:741.30px;font-weight:bold;font-size:24.8px;color:#111;transform:rotate(-90deg) scaleX(0.9027);-webkit-text-stroke:0.9px #111">DANGER ZONE</div>
<div class="t" style="left:458.00px;top:740.70px;font-weight:bold;font-size:24.8px;color:#111;transform:rotate(-90deg) scaleX(0.9054);-webkit-text-stroke:0.9px #111">DANGER ZONE</div>
<div class="t" style="left:670.00px;top:739.70px;font-weight:bold;font-size:24.8px;color:#111;transform:rotate(-90deg) scaleX(0.9027);-webkit-text-stroke:0.9px #111">DANGER ZONE</div>
<div class="t" style="left:886.00px;top:739.70px;font-weight:bold;font-size:24.8px;color:#111;transform:rotate(-90deg) scaleX(0.9027);-webkit-text-stroke:0.9px #111">DANGER ZONE</div>
<div class="t" style="left:35.00px;top:920.60px;font-weight:bold;font-size:23.5px;color:#111;transform:rotate(-90deg) scaleX(1.0770);-webkit-text-stroke:0.6px #111">Amount of Chocolate (ounces)</div>
</body></html>
